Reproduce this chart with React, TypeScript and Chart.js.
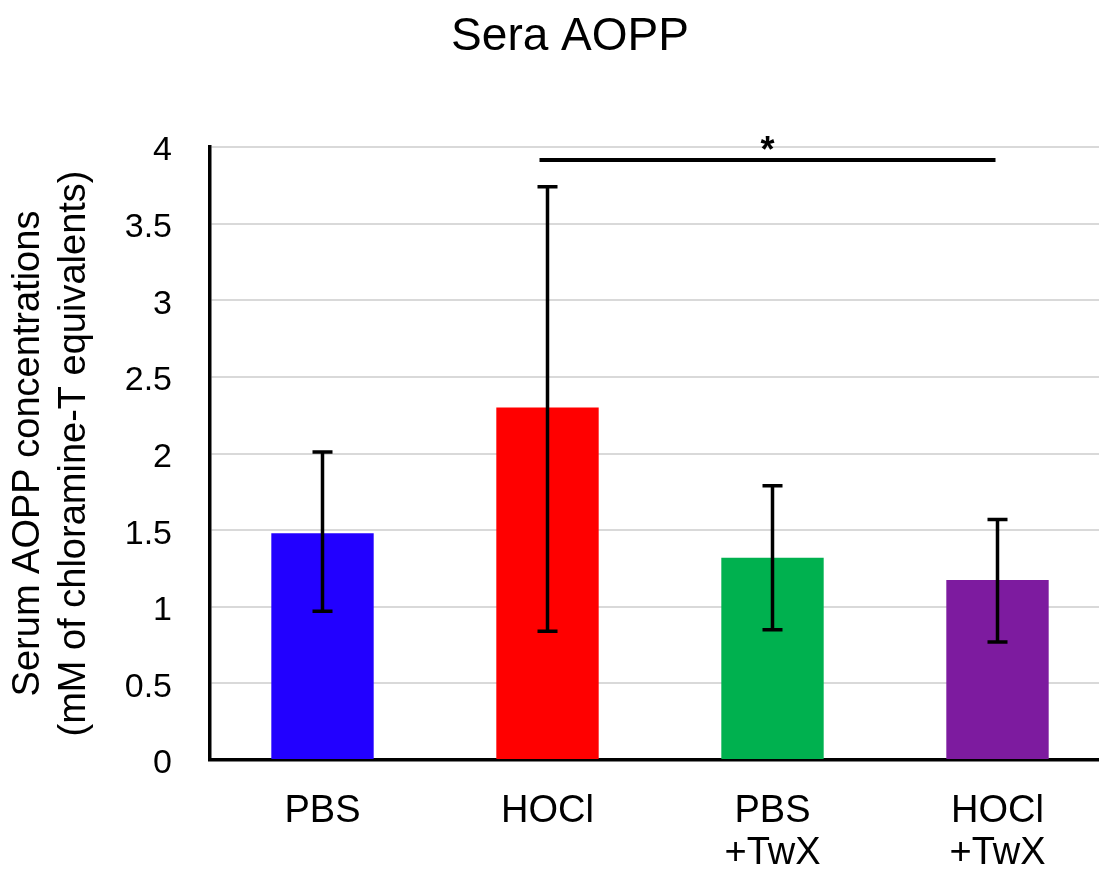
import React, { useEffect, useRef } from "react";
import { Chart, registerables } from "chart.js";

Chart.register(...registerables);

// ---- data ----
const categories: string[][] = [["PBS"], ["HOCl"], ["PBS", "+TwX"], ["HOCl", "+TwX"]];
const means: number[] = [1.48, 2.3, 1.32, 1.175];
const errLow: number[] = [0.97, 0.84, 0.85, 0.77];
const errHigh: number[] = [2.01, 3.74, 1.79, 1.57];
const barColors: string[] = ["#2200FF", "#FF0000", "#00B14F", "#7D1B9F"];
const chartTitle = "Sera AOPP";
const yTitle: string[] = ["Serum AOPP concentrations", "(mM of chloramine-T equivalents)"];
const yMin = 0;
const yMax = 4;
const yStep = 0.5;
const sigFrom = 1;
const sigTo = 3;
const sigValue = 3.915;
const sigLabel = "*";

const FONT = "'Liberation Sans', Arial, Helvetica, sans-serif";

const titlePlugin = {
  id: "customTitle",
  afterDraw(chart: any) {
    const ctx = chart.ctx;
    ctx.save();
    ctx.fillStyle = "#000";
    ctx.font = `46px ${FONT}`;
    ctx.textAlign = "center";
    ctx.textBaseline = "alphabetic";
    ctx.fillText(chartTitle, chart.width / 2 + 15, 50);
    ctx.restore();
  },
};

const errorBarPlugin = {
  id: "errorBars",
  afterDatasetsDraw(chart: any) {
    const ctx = chart.ctx;
    const yScale = chart.scales.y;
    const meta = chart.getDatasetMeta(0);
    ctx.save();
    ctx.strokeStyle = "#000";
    ctx.lineWidth = 3.5;
    ctx.lineCap = "butt";
    meta.data.forEach((bar: any, i: number) => {
      const x = bar.x;
      const yh = yScale.getPixelForValue(errHigh[i]);
      const yl = yScale.getPixelForValue(errLow[i]);
      const cap = 10;
      ctx.beginPath();
      ctx.moveTo(x, yh);
      ctx.lineTo(x, yl);
      ctx.moveTo(x - cap, yh);
      ctx.lineTo(x + cap, yh);
      ctx.moveTo(x - cap, yl);
      ctx.lineTo(x + cap, yl);
      ctx.stroke();
    });
    // significance bar
    const xScale = chart.scales.x;
    const x1 = xScale.getPixelForValue(sigFrom) - 8;
    const x2 = xScale.getPixelForValue(sigTo) - 2;
    const ys = yScale.getPixelForValue(sigValue);
    ctx.lineWidth = 4;
    ctx.beginPath();
    ctx.moveTo(x1, ys);
    ctx.lineTo(x2, ys);
    ctx.stroke();
    ctx.fillStyle = "#000";
    ctx.font = `bold 36px ${FONT}`;
    ctx.textAlign = "center";
    ctx.textBaseline = "alphabetic";
    ctx.fillText(sigLabel, (x1 + x2) / 2, ys + 2);
    ctx.restore();
  },
};

export default function App() {
  const ref = useRef<HTMLCanvasElement | null>(null);

  useEffect(() => {
    if (!ref.current) return;
    const chart = new Chart(ref.current, {
      type: "bar",
      data: {
        labels: categories as any,
        datasets: [
          {
            data: means,
            backgroundColor: barColors,
            borderWidth: 0,
            categoryPercentage: 1,
            barPercentage: 0.455,
          },
        ],
      },
      options: {
        animation: false,
        responsive: false,
        maintainAspectRatio: false,
        layout: { padding: { left: 0, right: 0, top: 147, bottom: 0 } },
        plugins: {
          legend: { display: false },
          tooltip: { enabled: false },
          title: { display: false },
        },
        scales: {
          x: {
            grid: { display: false, drawTicks: false },
            border: { display: true, color: "#000", width: 3.5 },
            ticks: {
              color: "#000",
              padding: 31,
              maxRotation: 0,
              autoSkip: false,
              font: { family: FONT, size: 38, lineHeight: 1.1 },
            },
            afterFit: (s: any) => {
              s.height = 113;
            },
          },
          y: {
            min: yMin,
            max: yMax,
            ticks: {
              stepSize: yStep,
              color: "#000",
              padding: 38,
              labelOffset: 4,
              font: { family: FONT, size: 34 },
              callback: (v: any) => String(Number(v)),
            },
            grid: { color: "#d9d9d9", lineWidth: 2, drawTicks: false },
            border: { display: true, color: "#000", width: 3.5 },
            title: {
              display: true,
              text: yTitle,
              color: "#000",
              font: { family: FONT, size: 38, lineHeight: 1.2 },
              padding: { top: 6, bottom: 0 },
            },
            afterFit: (s: any) => {
              s.width = 210;
            },
          },
        },
      },
      plugins: [errorBarPlugin, titlePlugin],
    });
    return () => chart.destroy();
  }, []);

  return (
    <div
      style={{
        position: "fixed",
        left: 0,
        top: 0,
        width: 1099,
        height: 873,
        overflow: "hidden",
        background: "#fff",
      }}
    >
      <canvas ref={ref} width={1110} height={873} style={{ width: 1110, height: 873, display: "block" }} />
    </div>
  );
}
